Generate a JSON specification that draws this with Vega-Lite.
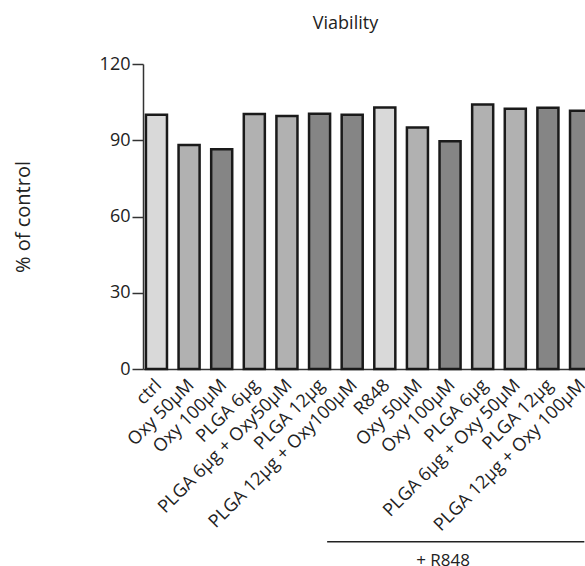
{
  "$schema": "https://vega.github.io/schema/vega-lite/v6.json",
  "width": 451,
  "height": 305,
  "padding": {"left": 13, "top": 15, "right": 0, "bottom": 0},
  "autosize": {"type": "pad"},
  "config": {"view": {"stroke": null}, "font": "Open Sans", "background": "white"},
  "title": {"text": "Viability", "fontSize": 18, "fontWeight": "normal", "color": "#222222", "offset": 22, "dx": -23},
  "layer": [
    {
      "data": {"values": [
        {"treatment": "ctrl", "dose": "none", "viability": 100.0},
        {"treatment": "Oxy 50μM", "dose": "low", "viability": 88.1},
        {"treatment": "Oxy 100μM", "dose": "high", "viability": 86.5},
        {"treatment": "PLGA 6μg", "dose": "low", "viability": 100.3},
        {"treatment": "PLGA 6μg + Oxy50μM", "dose": "low", "viability": 99.5},
        {"treatment": "PLGA 12μg", "dose": "high", "viability": 100.4},
        {"treatment": "PLGA 12μg + Oxy100μM", "dose": "high", "viability": 100.0},
        {"treatment": "R848", "dose": "none", "viability": 102.9},
        {"treatment": "R848 + Oxy 50μM", "dose": "low", "viability": 95.0},
        {"treatment": "R848 + Oxy 100μM", "dose": "high", "viability": 89.6},
        {"treatment": "R848 + PLGA 6μg", "dose": "low", "viability": 104.1},
        {"treatment": "R848 + PLGA 6μg + Oxy 50μM", "dose": "low", "viability": 102.4},
        {"treatment": "R848 + PLGA 12μg", "dose": "high", "viability": 102.8},
        {"treatment": "R848 + PLGA 12μg + Oxy 100μM", "dose": "high", "viability": 101.6}
      ]},
      "mark": {"type": "bar", "stroke": "#1a1a1a", "strokeWidth": 2.5},
      "encoding": {
        "x": {
          "field": "treatment", "type": "nominal", "sort": null,
          "scale": {
            "domain": ["ctrl", "Oxy 50μM", "Oxy 100μM", "PLGA 6μg", "PLGA 6μg + Oxy50μM", "PLGA 12μg", "PLGA 12μg + Oxy100μM", "R848", "R848 + Oxy 50μM", "R848 + Oxy 100μM", "R848 + PLGA 6μg", "R848 + PLGA 6μg + Oxy 50μM", "R848 + PLGA 12μg", "R848 + PLGA 12μg + Oxy 100μM"],
            "paddingInner": 0.355, "paddingOuter": 0.09
          },
          "axis": {
            "title": null, "labelAngle": -45, "labelFontSize": 18, "labelColor": "#222222", "labelLimit": 0,
            "labelExpr": "replace(datum.label, 'R848 + ', '')",
            "ticks": false, "labelPadding": 7, "labelOffset": -4, "domainColor": "#333333", "domainWidth": 1.5
          }
        },
        "y": {
          "field": "viability", "type": "quantitative",
          "scale": {"domain": [0, 120], "nice": false},
          "axis": {
            "values": [0, 30, 60, 90, 120], "grid": false, "title": "% of control",
            "titleFontSize": 20, "titleFontWeight": "normal", "titleColor": "#222222", "titlePadding": 66,
            "labelFontSize": 18, "labelColor": "#222222", "labelPadding": 2,
            "tickSize": 11, "tickWidth": 1.5, "tickColor": "#333333", "domainColor": "#333333", "domainWidth": 1.5
          }
        },
        "fill": {
          "field": "dose", "type": "nominal",
          "scale": {"domain": ["none", "low", "high"], "range": ["#d9d9d9", "#b1b1b1", "#858585"]},
          "legend": null
        }
      }
    },
    {
      "data": {"values": [{"group": "+ R848", "from": "PLGA 12μg", "to": "R848 + PLGA 12μg + Oxy 100μM"}]},
      "mark": {"type": "rule", "stroke": "#222222", "strokeWidth": 1.5},
      "encoding": {
        "x": {"field": "from", "type": "nominal", "bandPosition": 0.86},
        "x2": {"field": "to", "bandPosition": 0.68},
        "y": {"datum": -68}
      }
    },
    {
      "data": {"values": [{"group": "+ R848"}]},
      "mark": {"type": "text", "fontSize": 17, "color": "#222222", "align": "center", "baseline": "middle"},
      "encoding": {
        "text": {"field": "group"},
        "x": {"datum": "R848 + Oxy 100μM", "type": "nominal", "bandPosition": 0.17},
        "y": {"datum": -75.5}
      }
    }
  ]
}
